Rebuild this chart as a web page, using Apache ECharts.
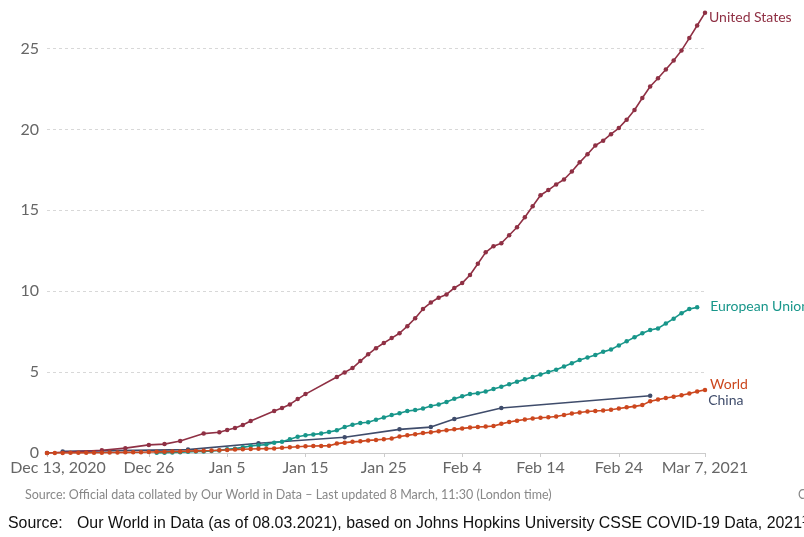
<!DOCTYPE html>
<html>
<head>
<meta charset="utf-8">
<script src="https://cdn.jsdelivr.net/npm/echarts@6/dist/echarts.min.js"></script>
<style>
  html, body { margin: 0; padding: 0; background: #fff; }
  #chart { width: 804px; height: 537px; }
</style>
</head>
<body>
<div id="chart"></div>
<script>
// 起点日期，x 轴按天计
const START = '2020-12-13'

// x 轴刻度
const tickDates = ['2020-12-13', '2020-12-26', '2021-01-05', '2021-01-15', '2021-01-25', '2021-02-04', '2021-02-14', '2021-02-24', '2021-03-07']
const tickLabels = ['Dec 13, 2020', 'Dec 26', 'Jan 5', 'Jan 15', 'Jan 25', 'Feb 4', 'Feb 14', 'Feb 24', 'Mar 7, 2021']
// y 轴刻度
const yTicks = [0, 5, 10, 15, 20, 25]

// United States (不连续的日期)
const usDates = [
  '2020-12-13', '2020-12-20', '2020-12-23', '2020-12-26', '2020-12-28', '2020-12-30',
  '2021-01-02', '2021-01-04', '2021-01-05', '2021-01-06', '2021-01-07', '2021-01-08',
  '2021-01-11', '2021-01-12', '2021-01-13', '2021-01-14', '2021-01-15',
  '2021-01-19', '2021-01-20', '2021-01-21', '2021-01-22', '2021-01-23', '2021-01-24',
  '2021-01-25', '2021-01-26', '2021-01-27', '2021-01-28', '2021-01-29', '2021-01-30',
  '2021-01-31', '2021-02-01', '2021-02-02', '2021-02-03', '2021-02-04', '2021-02-05',
  '2021-02-06', '2021-02-07', '2021-02-08', '2021-02-09', '2021-02-10', '2021-02-11',
  '2021-02-12', '2021-02-13', '2021-02-14', '2021-02-15', '2021-02-16', '2021-02-17',
  '2021-02-18', '2021-02-19', '2021-02-20', '2021-02-21', '2021-02-22', '2021-02-23',
  '2021-02-24', '2021-02-25', '2021-02-26', '2021-02-27', '2021-02-28', '2021-03-01',
  '2021-03-02', '2021-03-03', '2021-03-04', '2021-03-05', '2021-03-06', '2021-03-07'
]
const usValues = [
  0, 0.17, 0.3, 0.5, 0.55, 0.74,
  1.2, 1.28, 1.42, 1.54, 1.73, 1.98,
  2.6, 2.78, 3.0, 3.33, 3.64,
  4.7, 4.98, 5.25, 5.68, 6.1, 6.48,
  6.8, 7.1, 7.4, 7.84, 8.33, 8.9,
  9.3, 9.6, 9.8, 10.2, 10.5, 11.0,
  11.7, 12.4, 12.78, 12.96, 13.46, 13.95,
  14.57, 15.25, 15.93, 16.25, 16.6, 16.9,
  17.4, 17.96, 18.46, 19.0, 19.3, 19.7,
  20.08, 20.6, 21.2, 21.94, 22.65, 23.16,
  23.7, 24.26, 24.88, 25.64, 26.42, 27.2
]

// European Union (每日，从 12-27 开始)
const euStart = '2020-12-27'
const euValues = [
  0.01, 0.02, 0.03, 0.05, 0.07,
  0.09, 0.1, 0.12, 0.16, 0.23, 0.27, 0.35, 0.43, 0.48, 0.52,
  0.64, 0.7, 0.85, 1.0, 1.1, 1.15, 1.2, 1.3, 1.4, 1.6,
  1.75, 1.85, 1.9, 2.05, 2.2, 2.35, 2.45, 2.6, 2.65, 2.75, 2.9,
  3.0, 3.15, 3.35, 3.5, 3.65, 3.7, 3.8, 3.95, 4.1, 4.25,
  4.4, 4.55, 4.7, 4.85, 5.0, 5.15, 5.35, 5.55, 5.75, 5.9,
  6.05, 6.25, 6.4, 6.65, 6.9, 7.15, 7.4, 7.6,
  7.7, 8.0, 8.3, 8.64, 8.9, 9.0
]

// World (每日，从 12-13 开始)
const worldStart = '2020-12-13'
const worldValues = [
  0, 0, 0, 0.01, 0.01, 0.01, 0.02, 0.02, 0.03, 0.03,
  0.04, 0.05, 0.05, 0.06, 0.07, 0.08, 0.09, 0.1, 0.12,
  0.13, 0.14, 0.15, 0.17, 0.19, 0.21, 0.23, 0.25, 0.26, 0.27,
  0.28, 0.32, 0.36, 0.39, 0.42, 0.43, 0.44, 0.45, 0.58, 0.64,
  0.69, 0.72, 0.78, 0.81, 0.85, 0.9, 1.02, 1.09, 1.16, 1.23, 1.28,
  1.35, 1.41, 1.46, 1.52, 1.57, 1.61, 1.63, 1.67, 1.8, 1.92,
  2.0, 2.07, 2.13, 2.18, 2.21, 2.26, 2.35, 2.44, 2.5, 2.56,
  2.6, 2.63, 2.67, 2.75, 2.82, 2.88, 2.96, 3.2,
  3.3, 3.4, 3.48, 3.57, 3.68, 3.8, 3.9
]

// China (稀疏)
const chinaDates = ['2020-12-15', '2020-12-31', '2021-01-09', '2021-01-20', '2021-01-27', '2021-01-31', '2021-02-03', '2021-02-09', '2021-02-28']
const chinaValues = [0.1, 0.21, 0.6, 0.97, 1.46, 1.6, 2.1, 2.78, 3.54]

const COLORS = {
  us: '#8f3044',
  eu: '#18968a',
  world: '#cc471e',
  china: '#3f4c6b'
}

const dayOf = d => (Date.parse(d) - Date.parse(START)) / 864e5
const tickDays = tickDates.map(dayOf)

const byDates = (dates, values) => dates.map((d, i) => [dayOf(d), values[i]])
const byStart = (start, values) => values.map((v, i) => [dayOf(start) + i, v])

const labelFont = 'Lato, "Noto Sans", sans-serif'

function lineSeries(name, data, color, endLabel, z) {
  return {
    name,
    type: 'line',
    data,
    z,
    symbol: 'circle',
    symbolSize: 4.5,
    showSymbol: true,
    lineStyle: { width: 1.6, color },
    itemStyle: { color },
    emphasis: { disabled: true },
    endLabel: Object.assign({
      show: true,
      formatter: '{a}',
      color,
      fontSize: 14,
      fontFamily: labelFont
    }, endLabel)
  }
}

const myChart = echarts.init(document.getElementById('chart'), null, { renderer: 'canvas' })

const option = {
  animation: false,
  backgroundColor: '#fff',
  grid: {
    left: 47,
    right: 99,
    top: 8,
    bottom: 84
  },
  xAxis: {
    type: 'value',
    min: 0,
    max: 84,
    axisLine: { show: true, lineStyle: { color: '#cccccc', width: 1 } },
    axisTick: { show: true, customValues: tickDays, length: 4, lineStyle: { color: '#cccccc' } },
    splitLine: { show: false },
    axisLabel: {
      customValues: tickDays,
      color: '#666',
      fontSize: 16,
      fontFamily: labelFont,
      margin: 7,
      formatter: function(val) {
        const i = tickDays.indexOf(val)
        if (i === 0) return '{first|' + tickLabels[0] + '}'
        return i >= 0 ? tickLabels[i] : ''
      },
      rich: {
        first: {
          color: '#666',
          fontSize: 16,
          fontFamily: labelFont,
          padding: [0, 0, 0, 22]
        }
      }
    }
  },
  yAxis: {
    type: 'value',
    min: 0,
    max: 27.5,
    axisLine: { show: false },
    axisTick: { show: false, customValues: yTicks },
    axisLabel: {
      customValues: yTicks,
      color: '#666',
      fontSize: 16,
      fontFamily: labelFont,
      margin: 8
    },
    splitLine: {
      show: true,
      lineStyle: { color: '#d8d8d8', type: [3, 3], width: 1 }
    }
  },
  series: [
    lineSeries('China', byDates(chinaDates, chinaValues), COLORS.china, { distance: 4, offset: [54, 5] }, 1),
    lineSeries('United States', byDates(usDates, usValues), COLORS.us, { distance: 4, offset: [0, 5] }, 2),
    lineSeries('European Union', byStart(euStart, euValues), COLORS.eu, { distance: 4, offset: [9, -1] }, 3),
    lineSeries('World', byStart(worldStart, worldValues), COLORS.world, { distance: 5, offset: [0, -5] }, 4)
  ],
  graphic: [
    {
      type: 'text',
      left: 25,
      top: 488,
      style: {
        text: 'Source: Official data collated by Our World in Data \u2013 Last updated 8 March, 11:30 (London time)',
        fill: '#888',
        fontSize: 12.5,
        fontFamily: labelFont
      }
    },
    {
      type: 'text',
      left: 798,
      top: 488,
      style: {
        text: 'CC BY',
        fill: '#888',
        fontSize: 12.5,
        fontFamily: labelFont
      }
    },
    {
      type: 'text',
      x: 8,
      y: 515,
      scaleX: 0.935,
      style: {
        text: 'Source:',
        fill: '#111',
        fontSize: 17,
        fontFamily: '"Liberation Sans", sans-serif'
      }
    },
    {
      type: 'text',
      x: 77,
      y: 515,
      scaleX: 0.935,
      style: {
        text: 'Our World in Data (as of 08.03.2021), based on Johns Hopkins University CSSE COVID-19 Data, 2021\u00b9',
        fill: '#111',
        fontSize: 17,
        fontFamily: '"Liberation Sans", sans-serif'
      }
    }
  ]
}

myChart.setOption(option)
</script>
</body>
</html>
